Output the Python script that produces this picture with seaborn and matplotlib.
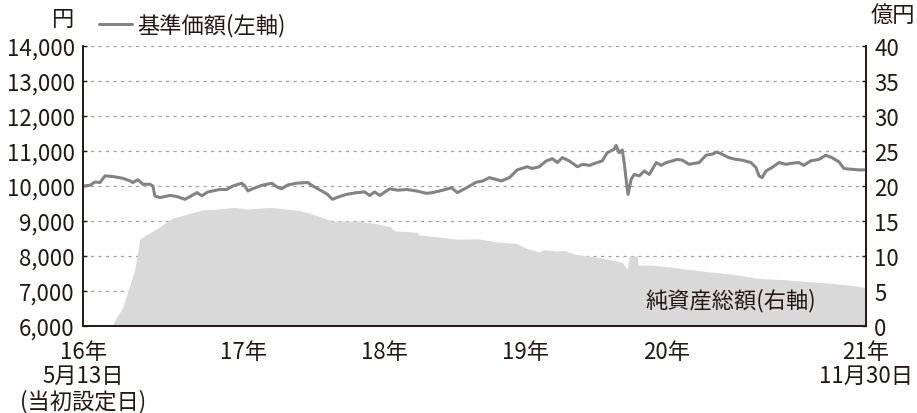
import pandas as pd
import matplotlib
matplotlib.use("Agg")
import matplotlib.pyplot as plt
import seaborn as sns

# 基準価額 (左軸, 円)
nav_dates = [
    "2016-05-13", "2016-05-31", "2016-06-13", "2016-06-26", "2016-07-09", "2016-07-30",
    "2016-08-24", "2016-09-11", "2016-09-19", "2016-10-02", "2016-10-15", "2016-11-02",
    "2016-11-10", "2016-11-15", "2016-11-28", "2016-12-24", "2017-01-11", "2017-02-01",
    "2017-02-19", "2017-03-04", "2017-03-17", "2017-04-01", "2017-05-02", "2017-05-20",
    "2017-06-05", "2017-06-28", "2017-07-06", "2017-07-14", "2017-07-26", "2017-08-19",
    "2017-09-14", "2017-09-26", "2017-10-09", "2017-10-25", "2017-11-17", "2017-12-16",
    "2017-12-29", "2018-01-21", "2018-02-05", "2018-02-18", "2018-03-08", "2018-03-26",
    "2018-04-21", "2018-05-12", "2018-05-25", "2018-06-07", "2018-06-20", "2018-07-16",
    "2018-08-05", "2018-08-29", "2018-09-23", "2018-10-19", "2018-11-04", "2018-11-30",
    "2018-12-23", "2019-01-07", "2019-01-31", "2019-02-25", "2019-03-13", "2019-03-31",
    "2019-05-01", "2019-05-22", "2019-06-11", "2019-07-07", "2019-07-20", "2019-08-07",
    "2019-08-25", "2019-09-10", "2019-09-23", "2019-10-06", "2019-10-24", "2019-11-14",
    "2019-11-27", "2019-12-15", "2020-01-04", "2020-01-17", "2020-01-30", "2020-02-17",
    "2020-02-22", "2020-03-01", "2020-03-09", "2020-03-14", "2020-03-19", "2020-03-24",
    "2020-04-01", "2020-04-09", "2020-04-22", "2020-05-05", "2020-05-18", "2020-06-05",
    "2020-06-18", "2020-07-01", "2020-07-16", "2020-07-29", "2020-08-11", "2020-08-29",
    "2020-09-24", "2020-10-12", "2020-10-28", "2020-11-09", "2020-11-22", "2020-12-10",
    "2020-12-29", "2021-01-13", "2021-02-05", "2021-02-18", "2021-02-26", "2021-03-06",
    "2021-03-16", "2021-04-01", "2021-04-19", "2021-05-07", "2021-05-22", "2021-06-09",
    "2021-06-22", "2021-07-10", "2021-07-31", "2021-08-18", "2021-09-03", "2021-09-21",
    "2021-10-04", "2021-10-22", "2021-11-12", "2021-11-30",
]
nav_values = [
    10000, 10020, 10115, 10100, 10290, 10270,
    10220, 10150, 10100, 10180, 10050, 10050,
    10000, 9715, 9670, 9730, 9700, 9620,
    9730, 9810, 9720, 9830, 9900, 9900,
    10000, 10080, 10000, 9860, 9920, 10020,
    10080, 9980, 9920, 10030, 10080, 10100,
    10000, 9860, 9760, 9620, 9700, 9760,
    9810, 9830, 9730, 9830, 9730, 9920,
    9880, 9900, 9860, 9790, 9810, 9880,
    9950, 9810, 9950, 10110, 10140, 10240,
    10145, 10240, 10460, 10550, 10500, 10550,
    10715, 10780, 10670, 10810, 10715, 10550,
    10620, 10590, 10670, 10715, 10950, 11050,
    11160, 10950, 11030, 10670, 10190, 9760,
    10190, 10330, 10290, 10430, 10330, 10670,
    10590, 10670, 10715, 10760, 10740, 10620,
    10670, 10880, 10910, 10970, 10910, 10810,
    10760, 10740, 10670, 10530, 10290, 10240,
    10430, 10530, 10670, 10620, 10650, 10670,
    10590, 10720, 10760, 10880, 10810, 10690,
    10500, 10480, 10460, 10460,
]

# 純資産総額 (右軸, 億円)
aum_dates = [
    "2016-05-13", "2016-07-27", "2016-08-09", "2016-08-22", "2016-09-06", "2016-09-24",
    "2016-10-07", "2016-10-20", "2016-11-20", "2016-12-16", "2017-01-01", "2017-02-06",
    "2017-03-19", "2017-04-24", "2017-06-10", "2017-07-11", "2017-09-08", "2017-10-22",
    "2017-11-25", "2018-01-08", "2018-02-16", "2018-04-29", "2018-06-12", "2018-07-16",
    "2018-07-29", "2018-09-23", "2018-10-01", "2018-11-22", "2019-01-05", "2019-03-05",
    "2019-04-18", "2019-06-09", "2019-07-05", "2019-08-07", "2019-08-20", "2019-09-20",
    "2019-10-11", "2019-11-11", "2019-12-15", "2020-01-09", "2020-02-04", "2020-03-09",
    "2020-03-22", "2020-03-27", "2020-04-17", "2020-04-19", "2020-05-25", "2020-07-16",
    "2020-09-24", "2020-12-18", "2021-02-26", "2021-05-07", "2021-07-13", "2021-09-03",
    "2021-10-24", "2021-11-30",
]
aum_values = [
    0, 0, 1.4, 2.4, 4.9, 8.1,
    12.4, 12.9, 13.9, 14.9, 15.4, 16.0,
    16.6, 16.7, 16.95, 16.7, 16.95, 16.7,
    16.5, 15.8, 15.0, 15.0, 14.6, 14.2,
    13.6, 13.4, 13.0, 12.7, 12.4, 12.45,
    12.0, 11.8, 11.1, 10.6, 10.9, 10.7,
    10.8, 10.2, 10.0, 9.8, 9.5, 9.1,
    8.1, 10.0, 10.0, 8.7, 8.7, 8.4,
    7.9, 7.4, 6.8, 6.6, 6.3, 6.1,
    5.8, 5.5,
]

left_ticks = [6000, 7000, 8000, 9000, 10000, 11000, 12000, 13000, 14000]
right_ticks = [0, 5, 10, 15, 20, 25, 30, 35, 40]
year_marks = ["2017-01-01", "2018-01-01", "2019-01-01", "2020-01-01", "2021-01-01"]
label_dates = ["2016-05-13", "2017-07-02", "2018-07-02", "2019-07-02", "2020-07-02", "2021-11-30"]
label_texts = ["16年\n5月13日\n(当初設定日)", "17年", "18年", "19年", "20年", "21年\n11月30日"]

ink = "#231815"
fs = 16
sns.set_style("white")
plt.rcParams["font.family"] = ["Noto Sans CJK JP", "DejaVu Sans"]
plt.rcParams["text.color"] = ink
plt.rcParams["xtick.color"] = ink
plt.rcParams["ytick.color"] = ink

nav = pd.DataFrame({"date": pd.to_datetime(nav_dates), "nav": nav_values})
aum = pd.DataFrame({"date": pd.to_datetime(aum_dates), "aum": aum_values})

fig = plt.figure(figsize=(9.17, 4.14), dpi=100)
ax2 = fig.add_axes([83 / 917, 1 - 327 / 414, 783 / 917, 280 / 414])
ax = ax2.twinx()

# area on right axis, grid under it
ax2.fill_between(aum["date"], aum["aum"], 0, color="#d9d9d9", linewidth=0, zorder=2)
ax2.set_ylim(0, 40)
ax2.yaxis.grid(True, color="#a0a0a0", linestyle=(0, (2.5, 3.5)), linewidth=0.9, zorder=1)
ax2.set_axisbelow(True)
ax2.yaxis.tick_right()
ax2.set_yticks(right_ticks)
ax2.set_yticklabels([str(v) for v in right_ticks], fontsize=fs)
ax2.tick_params(axis="y", direction="in", length=3, width=1, pad=6, right=True, left=False)

sns.lineplot(data=nav, x="date", y="nav", ax=ax, color="#838383", linewidth=2.2,
             label="基準価額(左軸)")
ax.yaxis.tick_left()
ax.set_ylim(6000, 14000)
ax.set_yticks(left_ticks)
ax.set_yticklabels([f"{v:,}" for v in left_ticks], fontsize=fs)
ax.tick_params(axis="y", direction="in", length=3, width=1, pad=6, left=True, right=False)
ax.set_ylabel("")
ax.set_xlabel("")

start, end = pd.Timestamp(nav_dates[0]), pd.Timestamp(nav_dates[-1])
for a in (ax, ax2):
    a.set_xlim(start, end)
    a.spines["top"].set_visible(False)
    for s in ("left", "right", "bottom"):
        a.spines[s].set_color(ink)
        a.spines[s].set_linewidth(1.2)

ax2.set_xticks(pd.to_datetime(year_marks))
ax2.set_xticklabels([""] * len(year_marks))
ax2.tick_params(axis="x", direction="in", length=7, width=1.2, bottom=True)
ax2.set_xticks(pd.to_datetime(label_dates), minor=True)
ax2.set_xticklabels(label_texts, minor=True, fontsize=fs, linespacing=1.08, va="top")
ax2.tick_params(axis="x", which="minor", length=0, pad=10)
ax.set_xticks([])

ax.legend(loc="center left", bbox_to_anchor=(99 / 917, 1 - 26 / 414),
          bbox_transform=fig.transFigure, frameon=False, fontsize=fs,
          handlelength=1.5, handletextpad=0.2, borderpad=0, borderaxespad=0)

fig.text(63 / 917, 1 - 20 / 414, "円", ha="center", va="center", fontsize=fs)
fig.text(893 / 917, 1 - 15 / 414, "億円", ha="center", va="center", fontsize=fs)
ax2.text(0.936, 0.096, "純資産総額(右軸)", transform=ax2.transAxes, ha="right",
         va="center", fontsize=fs)

fig.savefig("out.png", dpi=100)
